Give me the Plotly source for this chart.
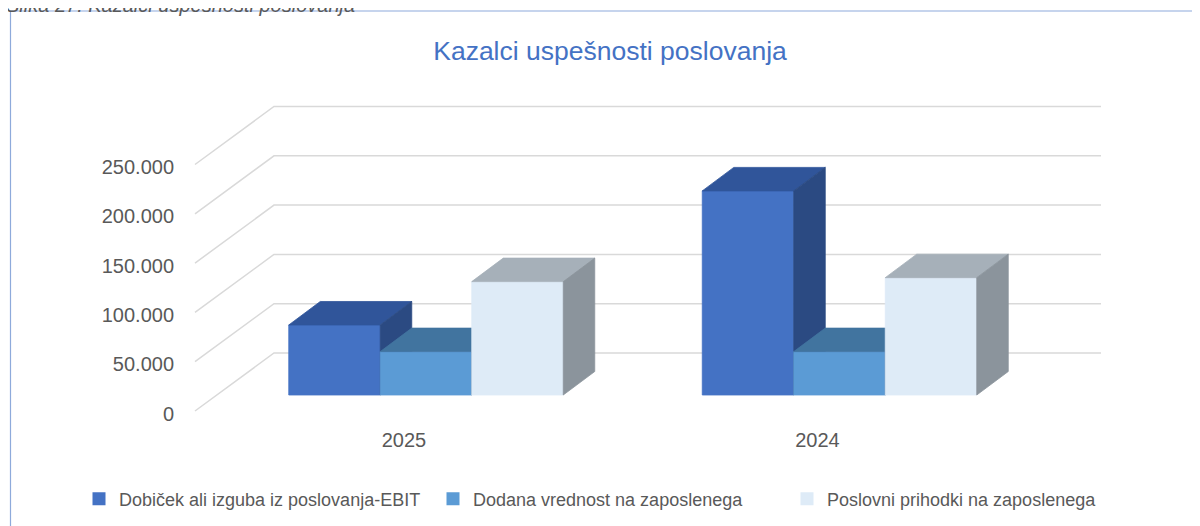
import plotly.graph_objects as go

# ---------------- data ----------------
categories = ["2025", "2024"]
ebit = [71000, 207000]
dodana = [44000, 44000]
poslovni = [115000, 119000]
series_names = [
    "Dobiček ali izguba iz poslovanja-EBIT",
    "Dodana vrednost na zaposlenega",
    "Poslovni prihodki na zaposlenega",
]
y_ticks = [0, 50000, 100000, 150000, 200000, 250000]
chart_title = "Kazalci uspešnosti poslovanja"
caption = "Slika 27: Kazalci uspešnosti poslovanja"

# ---------------- styles ----------------
front_colors = ["#4472C4", "#5B9BD5", "#DEEBF7"]
top_colors = ["#30559A", "#41749F", "#A6B0B9"]
side_colors = ["#2B4A82", "#3B6890", "#8B949C"]
GRID = "#D9D9D9"
TXT = "#595959"
FONT = "Liberation Sans, Arial, sans-serif"

# ---------------- geometry (reference pixels -> data units) ----------------
W, H = 1200, 526
OFF = 8  # page body margin
PL, PR, PT, PB = 180, 1110, 95, 420
CAT_PX, CAT0_PX = 413.5, 426.0
PX_PER_VAL = 49.3 / 50000
BASE_PY = 395.0


def xu(px):
    return px / CAT_PX


def vu(py):
    return py / PX_PER_VAL


def xabs(px):
    return (px - CAT0_PX) / CAT_PX


def paper_x(px):
    return (px - PL) / (PR - PL)


def paper_y(py):
    return (PB - py) / (PB - PT)


x_range = [xabs(PL), xabs(PR)]
y_range = [-vu(PB - BASE_PY), vu(BASE_PY - PT)]
BAR_W = xu(91.5)
D_DX, D_DV = xu(31.5), vu(23.5)
FRONT_DV = -vu(16)
LABEL_DV = -vu(18.5)
BACK_DV = vu(42)
XF_L, XB_L, XB_R = xabs(195), xabs(274), xabs(1101)
FRONT_DX = -xu(22)

fig = go.Figure()

# grid (walls)
gx, gy = [], []
for t in y_ticks:
    gx += [XF_L, XB_L, XB_R, None]
    gy += [t + FRONT_DV, t + BACK_DV, t + BACK_DV, None]
fig.add_trace(go.Scatter(x=gx, y=gy, mode="lines", line=dict(color=GRID, width=1.5),
                         hoverinfo="skip", showlegend=False))

series_vals = [ebit, dodana, poslovni]
n = len(series_vals)
for ci, cat in enumerate(categories):
    for si, vals in enumerate(series_vals):
        h = vals[ci]
        xl = ci + (si - n / 2) * BAR_W
        xr = xl + BAR_W
        faces = [
            ([xl, xr, xr, xl, xl], [0, 0, h, h, 0], front_colors[si]),
            ([xl, xr, xr + D_DX, xl + D_DX, xl], [h, h, h + D_DV, h + D_DV, h], top_colors[si]),
            ([xr, xr + D_DX, xr + D_DX, xr, xr], [0, D_DV, h + D_DV, h, 0], side_colors[si]),
        ]
        for fx, fy, col in faces:
            fig.add_trace(go.Scatter(x=fx, y=fy, mode="lines", fill="toself", fillcolor=col,
                                     line=dict(color=col, width=0.8), hoverinfo="skip",
                                     showlegend=False))

# legend entries
for si, name in enumerate(series_names):
    fig.add_trace(go.Scatter(x=[None], y=[None], mode="markers", name=name,
                             marker=dict(symbol="square", size=13, color=front_colors[si])))

# y tick labels on the front plane (overlay axis)
y2_range = [y_range[0] - LABEL_DV, y_range[1] - LABEL_DV]

fig.update_layout(
    width=W, height=H,
    margin=dict(l=PL - OFF, r=W - (PR - OFF), t=PT - OFF, b=H - (PB - OFF)),
    paper_bgcolor="white", plot_bgcolor="white",
    separators=",.",
    title=dict(text=chart_title, x=(610 - OFF) / W, xanchor="center",
               y=1 - (51 - OFF) / H, yanchor="middle", yref="container",
               font=dict(family=FONT, size=26.5, color="#4472C4")),
    xaxis=dict(range=x_range, showgrid=False, zeroline=False, showline=False,
               tickmode="array", tickvals=[i + FRONT_DX for i in range(len(categories))],
               ticktext=categories, ticks="", ticklabelstandoff=6,
               tickfont=dict(family=FONT, size=20, color=TXT), fixedrange=True),
    yaxis=dict(range=y_range, showgrid=False, zeroline=False, showline=False,
               showticklabels=False, fixedrange=True),
    yaxis2=dict(range=y2_range, overlaying="y", side="left", anchor="x", showgrid=False,
                zeroline=False, showline=False, tickmode="array", tickvals=y_ticks,
                tickformat=",.0f", ticks="", ticklabelstandoff=5,
                tickfont=dict(family=FONT, size=20, color=TXT), fixedrange=True),
    showlegend=True,
    legend=dict(orientation="h", x=paper_x(79), xanchor="left",
                y=paper_y(499), yanchor="middle",
                font=dict(family=FONT, size=18, color=TXT),
                entrywidth=309, entrywidthmode="pixels", bgcolor="rgba(0,0,0,0)"),
)

# invisible trace to activate yaxis2
fig.add_trace(go.Scatter(x=[None], y=[None], yaxis="y2", showlegend=False, hoverinfo="skip"))

# caption (cut off at the top) and chart border
fig.add_annotation(text="<i>" + caption + "</i>", xref="paper", yref="paper",
                   x=paper_x(4), xanchor="left",
                   y=paper_y(18), yanchor="bottom", showarrow=False,
                   font=dict(family=FONT, size=20, color=TXT))
fig.add_shape(type="rect", xref="paper", yref="paper",
              x0=paper_x(10.5), x1=paper_x(1215),
              y0=paper_y(11), y1=paper_y(545),
              line=dict(color="#8EAADB", width=1.2), fillcolor="rgba(0,0,0,0)", layer="below")

fig.write_html("out.html")
